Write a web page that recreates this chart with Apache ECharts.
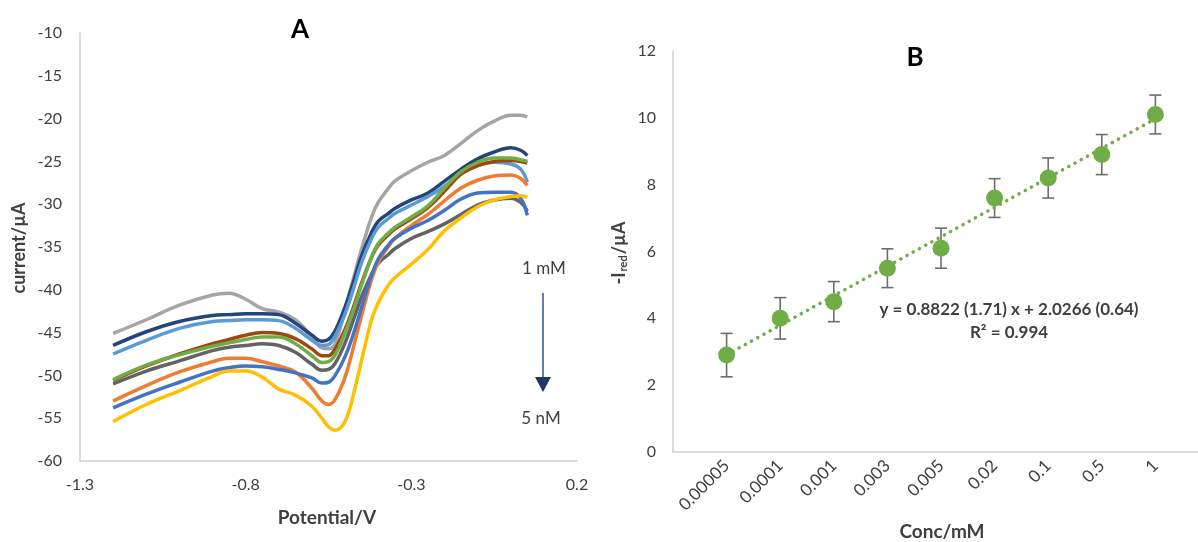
<!DOCTYPE html>
<html>
<head>
<meta charset="utf-8">
<script src="https://cdn.jsdelivr.net/npm/echarts@6.0.0/dist/echarts.min.js"></script>
<style>
  html, body { margin: 0; padding: 0; background: #fff; }
  #chart { width: 1198px; height: 542px; }
</style>
</head>
<body>
<div id="chart"></div>
<script>
// panel A: voltammograms, potential (V) vs current (µA)
var potential = [-1.2, -1.1, -1.0, -0.9, -0.85, -0.8, -0.75, -0.7, -0.65, -0.6, -0.57, -0.55, -0.53, -0.5,
  -0.47, -0.45, -0.42, -0.4, -0.37, -0.35, -0.3, -0.25, -0.2, -0.15, -0.1, -0.05, 0, 0.03, 0.05];

var curGray = [-45.1, -43.5, -41.8, -40.6, -40.4, -41.1, -42.2, -42.6, -43.5, -45.5, -46.8, -46.9, -46.3, -42.3,
  -38.0, -35.2, -31.5, -29.8, -28.2, -27.3, -26.1, -25.1, -24.3, -22.9, -21.4, -20.3, -19.6, -19.6, -19.8];
var curNavy = [-46.5, -44.9, -43.7, -43.0, -42.9, -42.8, -42.8, -42.9, -43.9, -45.3, -46.0, -45.8, -44.8, -42.0,
  -38.5, -36.0, -33.3, -32.0, -31.1, -30.5, -29.5, -28.7, -27.3, -25.9, -24.7, -23.9, -23.4, -23.7, -24.3];
var curLightBlue = [-47.5, -45.9, -44.5, -43.7, -43.6, -43.5, -43.5, -43.6, -44.5, -45.9, -46.5, -46.4, -45.4, -42.8,
  -39.3, -36.8, -34.0, -32.7, -31.7, -31.1, -30.1, -29.1, -27.9, -26.4, -25.5, -25.1, -25.3, -25.9, -27.4];
var curBrown = [-50.6, -48.9, -47.5, -46.3, -45.8, -45.3, -45.0, -45.1, -45.7, -46.9, -47.7, -47.7, -46.9, -44.6,
  -41.5, -39.2, -36.2, -34.8, -33.6, -32.9, -31.7, -30.4, -28.5, -26.5, -25.5, -25.0, -24.9, -25.0, -25.2];
var curGreen = [-50.5, -48.8, -47.6, -46.6, -46.2, -45.8, -45.5, -45.5, -46.3, -47.7, -48.5, -48.4, -47.6, -45.0,
  -41.8, -39.4, -36.2, -34.6, -33.4, -32.7, -31.5, -30.2, -28.1, -26.2, -25.1, -24.6, -24.6, -24.8, -25.0];
var curDarkGray = [-51.0, -49.5, -48.3, -47.1, -46.7, -46.5, -46.3, -46.5, -47.3, -48.7, -49.4, -49.3, -48.6, -46.2,
  -43.0, -40.8, -38.2, -36.9, -35.9, -35.2, -34.0, -33.2, -32.3, -31.2, -30.1, -29.5, -29.3, -29.8, -30.8];
var curOrange = [-53.0, -51.2, -49.6, -48.4, -48.0, -48.0, -48.4, -48.9, -49.6, -51.5, -53.0, -53.4, -52.8, -50.2,
  -46.0, -43.0, -38.8, -36.8, -35.0, -34.0, -32.5, -31.2, -29.6, -28.1, -27.2, -26.7, -26.6, -27.0, -27.8];
var curBlue = [-53.8, -52.2, -50.8, -49.5, -49.1, -48.9, -49.0, -49.3, -49.7, -50.3, -50.9, -50.8, -50.0, -47.8,
  -44.6, -42.0, -38.3, -36.4, -34.8, -34.0, -32.8, -31.9, -30.7, -29.4, -28.7, -28.6, -28.6, -29.3, -31.3];
var curYellow = [-55.4, -53.4, -51.8, -50.1, -49.5, -49.5, -50.2, -51.6, -52.3, -53.6, -55.0, -56.0, -56.4, -55.4,
  -51.5, -48.2, -43.5, -41.5, -39.5, -38.6, -37.0, -35.3, -33.1, -31.6, -30.3, -29.5, -29.1, -29.0, -29.2];

// panel B: calibration
var concLabels = ['0.00005', '0.0001', '0.001', '0.003', '0.005', '0.02', '0.1', '0.5', '1'];
var peakCurrent = [2.9, 4.0, 4.5, 5.5, 6.1, 7.6, 8.2, 8.9, 10.1];
var peakError = [0.65, 0.62, 0.6, 0.58, 0.6, 0.58, 0.6, 0.6, 0.58];
var trendX = [1, 9];
var trendY = [2.91, 9.97];

var font = 'Lato';
var textColor = '#404040';

var curves = [
  { d: curGray, c: '#A5A5A5' },
  { d: curNavy, c: '#264478' },
  { d: curLightBlue, c: '#5B9BD5' },
  { d: curBrown, c: '#9E480E' },
  { d: curGreen, c: '#70AD47' },
  { d: curDarkGray, c: '#636363' },
  { d: curOrange, c: '#ED7D31' },
  { d: curBlue, c: '#4472C4' },
  { d: curYellow, c: '#FFC000' }
];

var chart = echarts.init(document.getElementById('chart'));

var series = curves.map(function (cv) {
  return {
    type: 'line',
    xAxisIndex: 0,
    yAxisIndex: 0,
    smooth: 0.4,
    showSymbol: false,
    lineStyle: { color: cv.c, width: 3.5 },
    data: potential.map(function (p, i) { return [p, cv.d[i]]; })
  };
});

// error bars
series.push({
  type: 'custom',
  xAxisIndex: 1,
  yAxisIndex: 1,
  z: 3,
  data: peakCurrent.map(function (v, i) { return [i + 1, v - peakError[i], v + peakError[i]]; }),
  renderItem: function (params, api) {
    var top = api.coord([api.value(0), api.value(2)]);
    var bot = api.coord([api.value(0), api.value(1)]);
    var w = 6;
    var st = { stroke: '#6E6E6E', lineWidth: 1.6 };
    return {
      type: 'group',
      children: [
        { type: 'line', shape: { x1: top[0], y1: top[1], x2: bot[0], y2: bot[1] }, style: st },
        { type: 'line', shape: { x1: top[0] - w, y1: top[1], x2: top[0] + w, y2: top[1] }, style: st },
        { type: 'line', shape: { x1: bot[0] - w, y1: bot[1], x2: bot[0] + w, y2: bot[1] }, style: st }
      ]
    };
  }
});

// trendline
series.push({
  type: 'line',
  xAxisIndex: 1,
  yAxisIndex: 1,
  z: 4,
  showSymbol: false,
  lineStyle: { color: '#70AD47', width: 3.5, type: [0.1, 7], cap: 'round' },
  data: trendX.map(function (x, i) { return [x, trendY[i]]; })
});

series.push({
  type: 'scatter',
  xAxisIndex: 1,
  yAxisIndex: 1,
  z: 5,
  symbolSize: 17,
  itemStyle: { color: '#70AD47', opacity: 1 },
  data: peakCurrent.map(function (v, i) { return [i + 1, v]; })
});

var option = {
  animation: false,
  textStyle: { fontFamily: font },
  grid: [
    { left: 80, top: 33, width: 497, height: 428, outerBoundsMode: 'none' },
    { left: 673, top: 51, width: 536, height: 401, outerBoundsMode: 'none' }
  ],
  xAxis: [{
    gridIndex: 0,
    type: 'value',
    min: -1.3,
    max: 0.2,
    interval: 0.5,
    axisLine: { show: true, onZero: false, lineStyle: { color: '#D0D0D0', width: 1.5 } },
    axisTick: { show: false },
    splitLine: { show: false },
    axisLabel: {
      color: textColor, fontSize: 16, fontFamily: font, margin: 16,
      formatter: function (v) { return String(+v.toFixed(1)); }
    }
  }, {
    gridIndex: 1,
    type: 'value',
    position: 'bottom',
    min: 0,
    max: 10,
    interval: 1,
    axisLine: { show: true, lineStyle: { color: '#D0D0D0', width: 1.5 } },
    axisTick: { show: false },
    splitLine: { show: false },
    axisLabel: { show: false }
  }, {
    // label-only axis: the rotated labels sit a little right of each point
    gridIndex: 1,
    type: 'value',
    position: 'bottom',
    min: -0.4,
    max: 9.6,
    interval: 1,
    axisLine: { show: false },
    axisTick: { show: false },
    splitLine: { show: false },
    axisLabel: {
      color: textColor, fontSize: 17, fontFamily: font, margin: 11, rotate: 45,
      formatter: function (v) { return concLabels[Math.round(v) - 1] || ''; }
    }
  }],
  yAxis: [{
    gridIndex: 0,
    type: 'value',
    min: -60,
    max: -10,
    interval: 5,
    axisLine: { show: true, onZero: false, lineStyle: { color: '#D0D0D0', width: 1.5 } },
    axisTick: { show: false },
    splitLine: { show: false },
    axisLabel: { color: textColor, fontSize: 16, fontFamily: font, margin: 18 }
  }, {
    gridIndex: 1,
    type: 'value',
    min: 0,
    max: 12,
    interval: 2,
    axisLine: { show: true, lineStyle: { color: '#D0D0D0', width: 1.5 } },
    axisTick: { show: false },
    splitLine: { show: false },
    axisLabel: { color: textColor, fontSize: 16, fontFamily: font, margin: 17 }
  }],
  graphic: [
    { type: 'text', x: 300, y: 30, style: { text: 'A', font: 'bold 26px ' + font, fill: '#000', align: 'center', verticalAlign: 'middle' } },
    { type: 'text', x: 915, y: 58, style: { text: 'B', font: 'bold 26px ' + font, fill: '#000', align: 'center', verticalAlign: 'middle' } },
    { type: 'text', x: 19, y: 248, rotation: Math.PI / 2, style: { text: 'current/µA', font: 'bold 18px ' + font, fill: textColor, align: 'center', verticalAlign: 'middle' } },
    { type: 'text', x: 327, y: 518, style: { text: 'Potential/V', font: 'bold 19px ' + font, fill: textColor, align: 'center', verticalAlign: 'middle' } },
    { type: 'text', x: 619, y: 253, rotation: Math.PI / 2, style: {
        text: '{m|-I}{s|red}{m|/µA}', align: 'center', verticalAlign: 'middle',
        rich: {
          m: { font: 'bold 18px ' + font, fill: textColor },
          s: { font: 'bold 11px ' + font, fill: textColor, padding: [8, 1, 0, 1] }
        }
      } },
    { type: 'text', x: 942, y: 532, style: { text: 'Conc/mM', font: 'bold 19px ' + font, fill: textColor, align: 'center', verticalAlign: 'middle' } },
    { type: 'text', x: 1009, y: 310, style: { text: 'y = 0.8822 (1.71) x + 2.0266 (0.64)', font: 'bold 17px ' + font, fill: textColor, align: 'center', verticalAlign: 'middle' } },
    { type: 'text', x: 1009, y: 333, style: { text: 'R² = 0.994', font: 'bold 17px ' + font, fill: textColor, align: 'center', verticalAlign: 'middle' } },
    { type: 'text', x: 544, y: 269, style: { text: '1 mM', font: '17px ' + font, fill: textColor, align: 'center', verticalAlign: 'middle' } },
    { type: 'text', x: 541, y: 419, style: { text: '5 nM', font: '17px ' + font, fill: textColor, align: 'center', verticalAlign: 'middle' } },
    { type: 'line', shape: { x1: 543, y1: 293, x2: 543, y2: 378 }, style: { stroke: '#2F5597', lineWidth: 1.5 } },
    { type: 'polygon', shape: { points: [[535, 377], [551, 377], [543, 392]] }, style: { fill: '#1F3864' } }
  ],
  series: series
};

chart.setOption(option);
</script>
</body>
</html>
